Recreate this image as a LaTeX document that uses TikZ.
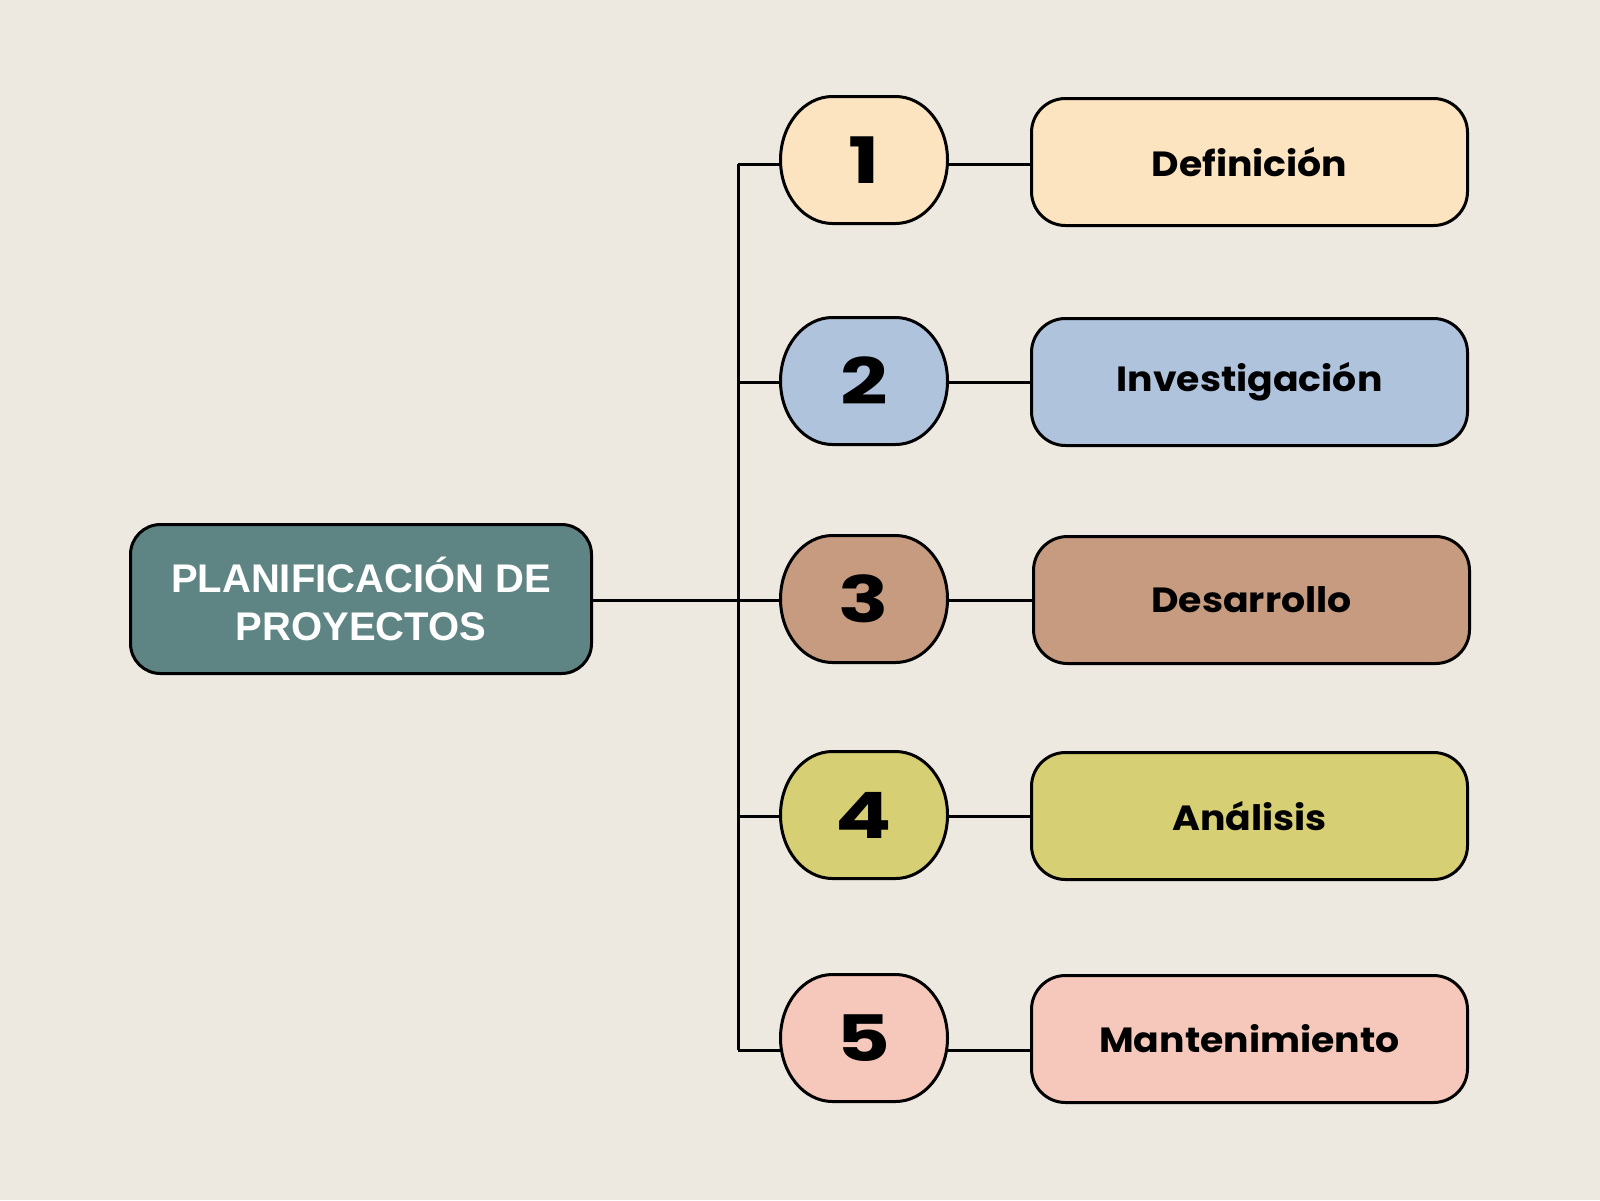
\documentclass[tikz,border=0pt]{standalone}
\usepackage{fontspec}
\setmainfont{Poppins}
\newfontfamily\headfont{Liberation Sans}
\newfontfamily\labfont[FakeStretch=1.08]{Poppins}
\newfontfamily\numfont[FakeStretch=1.3]{Poppins}
\definecolor{bgc}{HTML}{EDE9E1}
\definecolor{mainc}{HTML}{5F8484}
\definecolor{c1}{HTML}{FDE4C0}
\definecolor{c2}{HTML}{AFC3DD}
\definecolor{c3}{HTML}{C79B80}
\definecolor{c4}{HTML}{D7CF73}
\definecolor{c5}{HTML}{F6C8BC}
\begin{document}
\begin{tikzpicture}[x=0.5pt,y=-0.5pt,
  mainbox/.style={draw=black,line width=1.5pt,fill=mainc,rounded corners=15pt,minimum width=230.5pt,minimum height=74.5pt,align=center,text=white,font=\headfont\bfseries\fontsize{20}{24}\selectfont},
  numbox/.style={minimum width=83.5pt,minimum height=63.5pt,font=\numfont\bfseries\fontsize{32}{32}\selectfont,inner sep=0pt},
  labbox/.style={draw=black,line width=1.5pt,rounded corners=17pt,minimum width=218pt,minimum height=63.5pt,font=\labfont\bfseries\fontsize{17.5}{20}\selectfont},
  link/.style={draw=black,line width=1.5pt},
  pill/.style={draw=black,line width=1.5pt}]
\fill[bgc] (0,0) rectangle (1600,1200);
\useasboundingbox (0,0) rectangle (1600,1200);
\node[mainbox] (main) at (361,599) {PLANIFICACIÓN DE\\PROYECTOS};
\coordinate (p1) at (864,160);
\coordinate (p2) at (864,381);
\coordinate (p3) at (864,599);
\coordinate (p4) at (864,815);
\coordinate (p5) at (864,1038);
\foreach \i/\c in {1/c1,2/c2,3/c3,4/c4,5/c5}{
  \path[pill,fill=\c] ([xshift=-15.75pt,yshift=31.75pt]p\i) -- ([xshift=15.75pt,yshift=31.75pt]p\i)
    arc[start angle=90,end angle=-90,x radius=26pt,y radius=31.75pt]
    -- ([xshift=-15.75pt,yshift=-31.75pt]p\i)
    arc[start angle=270,end angle=90,x radius=26pt,y radius=31.75pt] -- cycle;
}
\node[numbox] (n1) at (p1) {1};
\node[numbox] (n2) at (p2) {2};
\node[numbox] (n3) at (p3) {3};
\node[numbox] (n4) at (p4) {4};
\node[numbox] (n5) at (p5) {5};
\node[labbox,fill=c1] (b1) at (1249.5,162) {Definición};
\node[labbox,fill=c2] (b2) at (1249.5,382) {Investigación};
\node[labbox,fill=c3] (b3) at (1251.5,600) {Desarrollo};
\node[labbox,fill=c4] (b4) at (1249.5,816) {Análisis};
\node[labbox,fill=c5] (b5) at (1249.5,1039) {Mantenimiento};
\coordinate (t1) at (738,164);
\coordinate (t2) at (738,382);
\coordinate (t3) at (738,600);
\coordinate (t4) at (738,816);
\coordinate (t5) at (738,1050);
\draw[link] (t1) -- (t5);
\draw[link] (main.east |- t3) -- (n3.west |- t3);
\draw[link] (t1) -- (n1.west |- t1);
\draw[link] (t2) -- (n2.west |- t2);
\draw[link] (t4) -- (n4.west |- t4);
\draw[link] (t5) -- ([xshift=1pt]n5.west |- t5);
\draw[link] (n1.east |- t1) -- (b1.west |- t1);
\draw[link] (n2.east |- t2) -- (b2.west |- t2);
\draw[link] (n3.east |- t3) -- (b3.west |- t3);
\draw[link] (n4.east |- t4) -- (b4.west |- t4);
\draw[link] ([xshift=-1pt]n5.east |- t5) -- (b5.west |- t5);
\end{tikzpicture}
\end{document}
